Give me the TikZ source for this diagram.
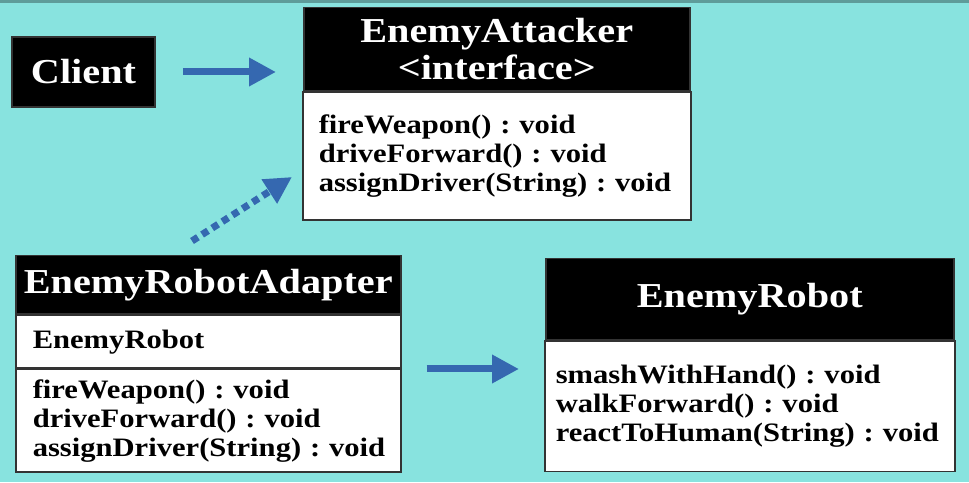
\documentclass[tikz,border=0pt]{standalone}
\usepackage{fontspec}
\setmainfont{Liberation Serif}[FakeStretch=1.15]
\usepackage{tikz}
\usetikzlibrary{arrows.meta,positioning}
\definecolor{SlideCyan}{HTML}{88E3DF}
\definecolor{SlideTop}{HTML}{5E9C9A}
\definecolor{ArrowBlue}{HTML}{3568B0}
\definecolor{BoxEdge}{HTML}{333333}
\frenchspacing

\begin{document}
\begin{tikzpicture}[
  x=1pt, y=1pt,
  head/.style={draw=BoxEdge,line width=1.5pt,fill=black,text=white,inner sep=0pt,align=center,
    font=\fontsize{35}{37}\selectfont\bfseries},
  body/.style={draw=BoxEdge,line width=1.5pt,fill=white,inner xsep=15pt,inner ysep=0pt,align=left,
    font=\fontsize{26.6}{29}\selectfont\bfseries},
  link/.style={-{Triangle[length=27pt,width=27pt]},ArrowBlue,line width=7pt},
  realize/.style={link,dash pattern=on 7pt off 5pt}
]
  % slide background
  \fill[SlideCyan] (0,0) rectangle (969,482);
  \fill[SlideTop] (0,479) rectangle (969,482);
  \useasboundingbox (0,0) rectangle (969,482);

  \node[head, minimum width=143pt, minimum height=70pt] (client) at (83.5,410) {Client};

  % interface
  \node[head, anchor=north west, minimum width=386pt, minimum height=83pt] (attackerHead) at (303,475)
    {EnemyAttacker\\{<}interface{>}};
  \node[body, below=0pt of attackerHead, minimum width=386pt, text width=356pt, inner xsep=16pt, minimum height=128pt] (attackerBody)
    {fireWeapon()~:~void\\driveForward()~:~void\\assignDriver(String)~:~void};

  % adapter
  \node[head, anchor=north west, minimum width=385pt, minimum height=58pt] (adapterHead) at (15,227)
    {EnemyRobotAdapter};
  \node[body, below=0pt of adapterHead, minimum width=385pt, text width=351pt, inner xsep=17pt, minimum height=53pt] (adapterAttr)
    {EnemyRobot};
  \node[body, below=0pt of adapterAttr, minimum width=385pt, text width=351pt, inner xsep=17pt, minimum height=102pt] (adapterOps)
    {fireWeapon()~:~void\\driveForward()~:~void\\assignDriver(String)~:~void\\[4pt]};

  % adaptee
  \node[head, anchor=north west, minimum width=408pt, minimum height=81pt] (robotHead) at (545,224)
    {EnemyRobot};
  \node[body, below=0pt of robotHead, minimum width=408pt, text width=388pt, inner xsep=11pt, minimum height=130pt] (robotBody)
    {smashWithHand()~:~void\\walkForward()~:~void\\reactToHuman(String)~:~void};

  \coordinate (realizeFrom) at (192,241);
  \coordinate (realizeTo) at (292,305);

  \draw[link, shorten <=27pt, shorten >=27pt] (client.east) -- (client.east -| attackerHead.west);
  \draw[realize] (realizeFrom) -- (realizeTo);
  \draw[link, yshift=3pt, shorten <=25pt, shorten >=25pt] (adapterAttr.south east) -- (adapterAttr.south east -| robotBody.west);
\end{tikzpicture}
\end{document}
